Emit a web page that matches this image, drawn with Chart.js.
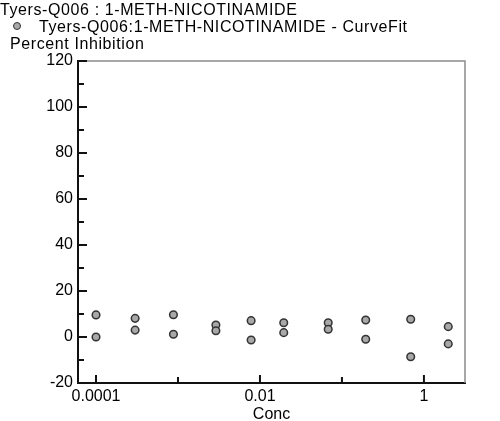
<!DOCTYPE html>
<html lang="en">
<head>
	<meta charset="UTF-8">
	<title>Tyers-Q006 : 1-METH-NICOTINAMIDE</title>
	<style>
		body {
			margin: 0;
			background-color: white;
			font-family: "Liberation Sans", Arial, sans-serif;
		}

		.wrap {
			position: relative;
			width: 500px;
			height: 421px;
		}

		.txt {
			position: absolute;
			font-size: 16px;
			letter-spacing: 0.6px;
			color: #000;
			white-space: pre;
			line-height: 16px;
		}

		.dot {
			position: absolute;
			left: 13px;
			top: 22px;
			width: 6px;
			height: 6px;
			border-radius: 50%;
			background: #a8a8a8;
			border: 1.5px solid #333;
		}
	</style>
	<script src="https://cdn.jsdelivr.net/npm/chart.js"></script>
</head>
<body>
<div class="wrap">
	<canvas id="chart" width="500" height="421"></canvas>
	<div class="txt" style="left:0px; top:2px;">Tyers-Q006 : 1-METH-NICOTINAMIDE</div>
	<div class="dot"></div>
	<div class="txt" style="left:39px; top:19px;">Tyers-Q006:1-METH-NICOTINAMIDE - CurveFit</div>
	<div class="txt" style="left:10px; top:36px;">Percent Inhibition</div>
</div>
<script>
	// данные
	const conc = [0.0001, 0.0003, 0.00088, 0.0029, 0.0078, 0.0195, 0.068, 0.195, 0.69, 1.98];
	const rep1 = [9.6, 8.1, 9.7, 5.2, 7.1, 6.2, 6.2, 7.4, 7.7, 4.5];
	const rep2 = [0.0, 3.0, 1.2, 2.7, -1.3, 1.9, 3.4, -1.0, -8.6, -3.0];

	const xTickValues = [0.0001, 0.01, 1];
	const xTickLabels = ['0.0001', '0.01', '1'];
	const xMinorTicks = [0.001, 0.1];
	const yMin = -20, yMax = 120, yStep = 20;

	const points = [];
	conc.forEach((c, i) => {
		points.push({ x: c, y: rep1[i] });
		points.push({ x: c, y: rep2[i] });
	});

	// рамка и засечки внутрь области графика
	const framePlugin = {
		id: 'frame',
		afterDraw(chart) {
			const ctx = chart.ctx;
			const a = chart.chartArea;
			const xs = chart.scales.x;
			const ys = chart.scales.y;
			ctx.save();
			ctx.strokeStyle = '#8a8a8a';
			ctx.lineWidth = 1.5;
			ctx.beginPath();
			ctx.moveTo(a.left, a.top);
			ctx.lineTo(a.right, a.top);
			ctx.lineTo(a.right, a.bottom);
			ctx.stroke();

			ctx.strokeStyle = '#111';
			ctx.lineWidth = 2;
			ctx.beginPath();
			for (let v = yMin; v <= yMax; v += yStep / 2) {
				const y = ys.getPixelForValue(v);
				const len = (v % yStep === 0) ? 9 : 6;
				ctx.moveTo(a.left, y);
				ctx.lineTo(a.left + len, y);
			}
			xTickValues.forEach(v => {
				const x = xs.getPixelForValue(v);
				ctx.moveTo(x, a.bottom);
				ctx.lineTo(x, a.bottom - 8);
			});
			xMinorTicks.forEach(v => {
				const x = xs.getPixelForValue(v);
				ctx.moveTo(x, a.bottom);
				ctx.lineTo(x, a.bottom - 6);
			});
			ctx.stroke();
			ctx.restore();
		}
	};

	const font = { family: '"Liberation Sans", Arial, sans-serif', size: 16 };

	new Chart(document.getElementById('chart'), {
		type: 'scatter',
		data: {
			datasets: [{
				label: 'Tyers-Q006:1-METH-NICOTINAMIDE - CurveFit',
				data: points,
				pointRadius: 3.8,
				pointHoverRadius: 3.8,
				pointBackgroundColor: '#a8a8a8',
				pointBorderColor: '#333',
				pointBorderWidth: 1.5
			}]
		},
		options: {
			responsive: false,
			animation: false,
			layout: { padding: { left: 0, top: 61, right: 35, bottom: 0 } },
			plugins: {
				legend: { display: false },
				tooltip: { enabled: false }
			},
			scales: {
				x: {
					type: 'logarithmic',
					min: 6.03e-5,
					max: 3.17,
					grid: { display: false, drawTicks: false, tickLength: 0 },
					border: { display: true, color: '#111', width: 2 },
					afterBuildTicks: (scale) => {
						scale.ticks = xTickValues.map(v => ({ value: v }));
					},
					afterFit: (scale) => { scale.height = 38; },
					ticks: {
						autoSkip: false,
						maxRotation: 0,
						padding: 4,
						color: '#000',
						font: font,
						callback: (value, index) => xTickLabels[index]
					},
					title: {
						display: true,
						text: 'Conc',
						color: '#000',
						font: font,
						padding: { top: 0, bottom: -3 }
					}
				},
				y: {
					min: yMin,
					max: yMax,
					grid: { display: false, drawTicks: false, tickLength: 0 },
					border: { display: true, color: '#111', width: 2 },
					afterFit: (scale) => { scale.width = 78; },
					ticks: {
						stepSize: yStep,
						padding: 5,
						color: '#000',
						font: font
					}
				}
			}
		},
		plugins: [framePlugin]
	});
</script>
</body>
</html>
